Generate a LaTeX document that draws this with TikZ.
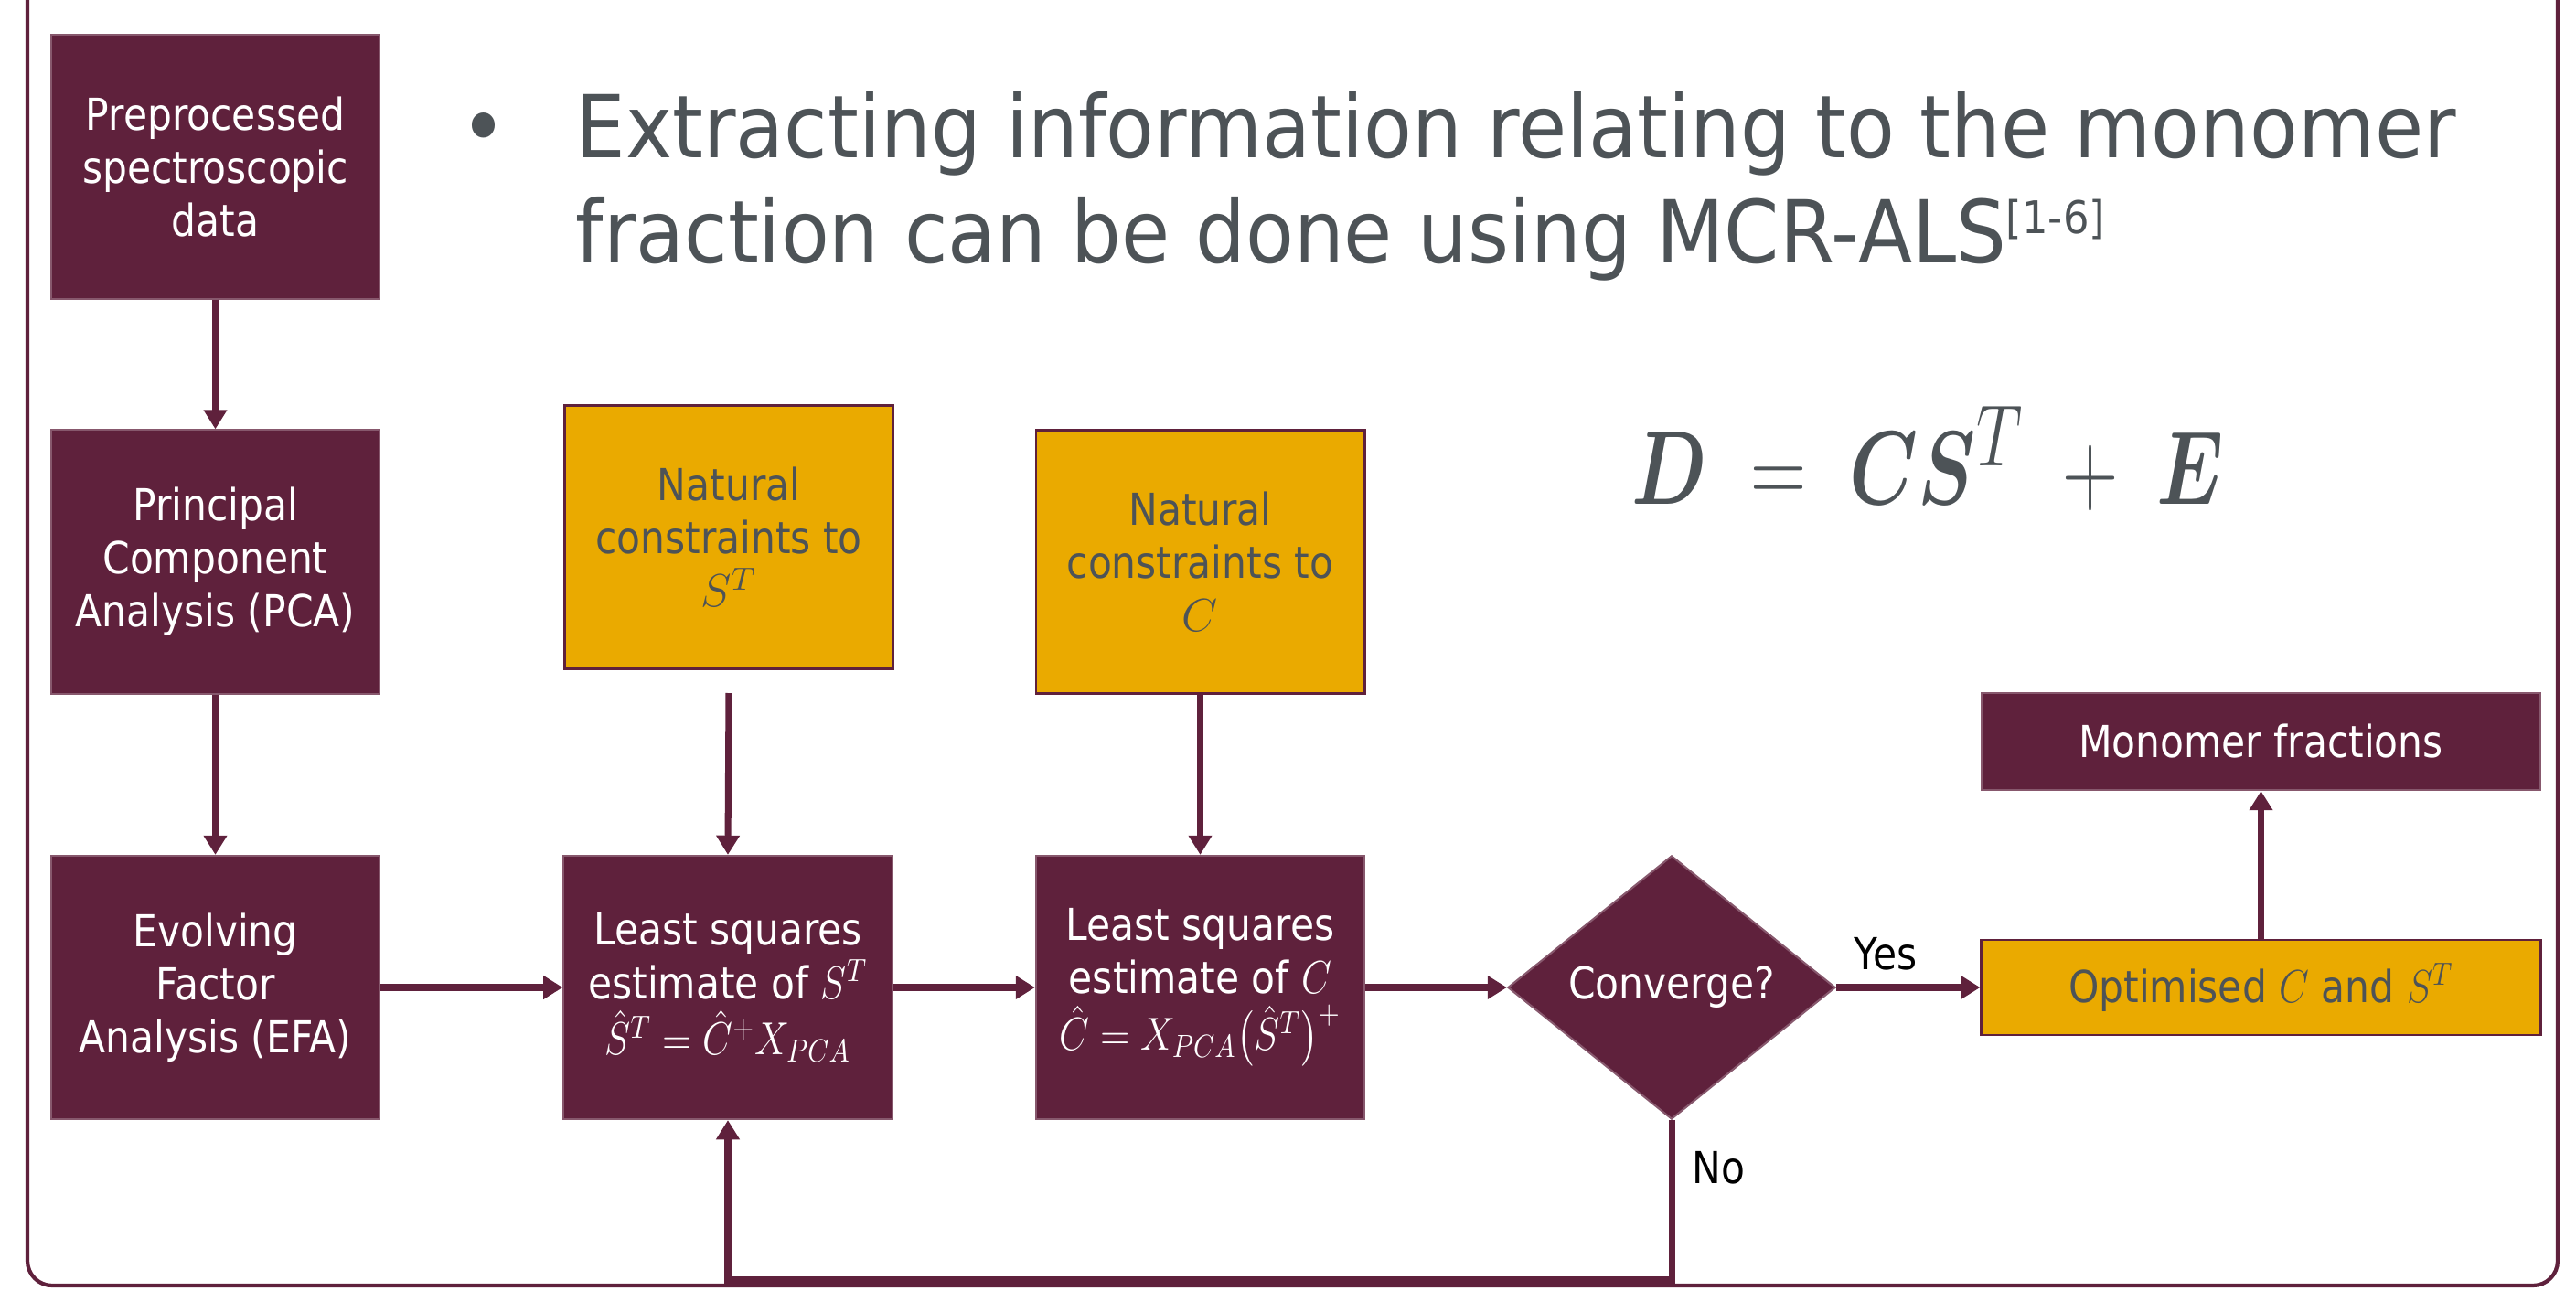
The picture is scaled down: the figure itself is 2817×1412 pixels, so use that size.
\documentclass[tikz,border=0pt]{standalone}
\usepackage{amsmath}
\usepackage[no-math]{fontspec}
\setmainfont{DejaVu Sans}[FakeStretch=0.88]
\newfontfamily\titlefont{DejaVu Sans}[FakeStretch=0.91]
\usetikzlibrary{arrows.meta,shapes.geometric}
\definecolor{maroon}{RGB}{95,33,60}
\definecolor{gold}{RGB}{234,170,0}
\definecolor{slate}{RGB}{77,83,87}
\tikzset{
  boxfont/.style={font=\fontsize{13.7}{16.5}\selectfont},
  mbox/.style={rectangle, fill=maroon, draw=maroon!75!white, line width=0.6pt,
    minimum width=3.59cm, minimum height=2.88cm, inner sep=0pt, align=center,
    text=white, boxfont},
  gbox/.style={rectangle, fill=gold, draw=maroon, line width=0.8pt,
    minimum width=3.59cm, minimum height=2.88cm, inner sep=0pt, align=center,
    text=slate, boxfont},
  arr/.style={draw=maroon, line width=2pt, -{Triangle[length=6pt,width=7pt]}},
  frame/.style={draw=maroon, line width=1.2pt, rounded corners=0.27cm},
  lbl/.style={text=black, boxfont, inner sep=0pt},
  ttl/.style={anchor=base west, inner sep=0pt, text=slate, font=\titlefont\fontsize{27}{32.7}\selectfont},
}
\newcommand{\mathsq}[1]{\scalebox{0.84}[1]{$#1$}}
\begin{document}
\begin{tikzpicture}[x=0.01cm,y=-0.01cm]
\useasboundingbox (0,0) rectangle (2817,1412);
\draw[frame] (30,-10) -- (30,1406) -- (2797,1406) -- (2797,-10);

% title
\node[ttl] (bul) at (503,172) {•};
\node[ttl] (t1) at (629,172) {Extracting information relating to the monomer};
\node[ttl] (t2) at (629,287) {fraction can be done using MCR-ALS\textsuperscript{\fontsize{14}{16}\selectfont[1-6]}};

% equation
\node[anchor=base west, inner sep=0pt, text=slate, font=\fontsize{24.88}{30}\selectfont] (eq) at (1784,551)
  {\scalebox{0.97}[1.306]{$\boldsymbol{D}\mathrel{\;=\;}\boldsymbol{C}\boldsymbol{S}^{T}\mathbin{\;+\;}\boldsymbol{E}$}};

% boxes
\node[mbox] (pre) at (235.5,182.5) {Preprocessed\\spectroscopic\\data};
\node[mbox] (pca) at (235.5,614.5) {Principal\\Component\\Analysis (PCA)};
\node[mbox] (efa) at (235.5,1080) {Evolving\\Factor\\Analysis (EFA)};
\node[gbox] (ns) at (797,587.5) {Natural\\constraints to\\$S^T$};
\node[gbox] (nc) at (1312.5,614.5) {Natural\\constraints to\\$C$};
\node[mbox] (lss) at (796,1080) {Least squares\\estimate of \mathsq{S^T}\\[1pt]\mathsq{\hat{S}^T=\hat{C}^{+}X_{PCA}}};
\node[mbox] (lsc) at (1312.5,1080) {Least squares\\estimate of \mathsq{C}\\[1pt]\mathsq{\hat{C}=X_{PCA}\big(\hat{S}^T\big)^{+}}};
\node[diamond, fill=maroon, draw=maroon!75!white, line width=0.6pt, inner sep=0pt,
  minimum width=3.58cm, minimum height=2.88cm, text=white, boxfont] (dia) at (1828,1080) {Converge?};
\node[gbox, minimum width=6.11cm, minimum height=1.04cm] (opt) at (2472.5,1080) {Optimised \mathsq{C} and \mathsq{S^T}};
\node[mbox, minimum width=6.11cm, minimum height=1.06cm] (mono) at (2472.5,811) {Monomer fractions};

% connectors
\coordinate (nsout) at (797,758);
\coordinate (loop) at (1828,1400);
\draw[arr] (pre.south) -- (pca.north);
\draw[arr] (pca.south) -- (efa.north);
\draw[arr] (efa.east) -- (lss.west);
\draw[arr] (nsout) -- (lss.north);
\draw[arr] (nc.south) -- (lsc.north);
\draw[arr] (lss.east) -- (lsc.west);
\draw[arr] (lsc.east) -- (dia.west);
\draw[arr] (dia.east) -- (opt.west);
\draw[arr] (opt.north) -- (mono.south);
\draw[arr] (dia.south) -- (loop) -| (lss.south);

\node[lbl, anchor=base] (yes) at (2062,1060) {Yes};
\node[lbl, anchor=base west] (no) at (1850,1294) {No};
\end{tikzpicture}
\end{document}
